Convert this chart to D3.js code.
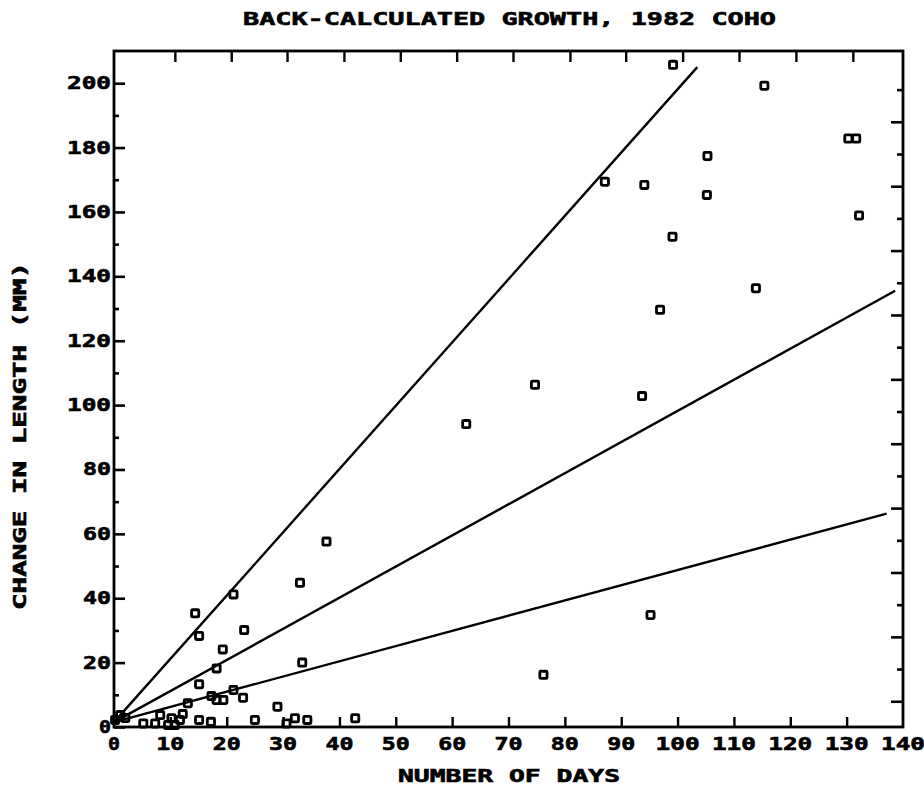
<!DOCTYPE html>
<html><head><meta charset="utf-8">
<script src="https://cdn.jsdelivr.net/npm/d3@7"></script>
<style>html,body{margin:0;padding:0;background:#fff}svg{display:block}</style>
</head><body><svg id="c" width="924" height="789"></svg>
<script>
// ---- data ----
const titleText = "BACK-CALCULATED GROWTH, 1982 COHO";
const xTitle = "NUMBER OF DAYS";
const yTitle = "CHANGE IN LENGTH (MM)";

const days = [99.2,115.4,130.3,131.7,105.3,87.1,94.1,105.2,132.2,99.1,113.9,96.9,74.7,93.7,62.5,
  37.7,33.0,21.2,14.4,15.1,23.1,19.3,33.4,18.2,15.1,13.1,21.2,22.9,17.3,18.2,19.4,29.0,95.2,76.2,
  1.1,0.2,2.0,5.2,8.2,7.3,10.2,11.7,10.8,9.6,12.2,15.1,17.2,25.0,30.6,32.1,34.3,42.8];
const growth = [205.7,199.2,182.8,182.8,177.4,169.4,168.4,165.3,158.9,152.3,136.3,129.6,106.3,102.8,94.1,
  57.6,44.8,41.2,35.3,28.3,30.1,24.1,20.0,18.2,13.3,7.4,11.5,9.1,9.6,8.4,8.4,6.3,34.8,16.2,
  3.7,2.2,2.8,1.1,3.7,1.1,2.7,2.2,0.6,0.6,4.0,2.2,1.6,2.2,1.1,2.7,2.2,2.7];

// fitted lines (end points)
const lineSteep   = [[0,1.5],[103.5,205]];
const lineMiddle  = [[0,1.5],[138.6,135.5]];
const lineShallow = [[0,1.5],[137.1,66.3]];

const xTickValues = [0,10,20,30,40,50,60,70,80,90,100,110,120,130,140];
const yTickValues = [0,20,40,60,80,100,120,140,160,180,200];
const yMinorTicks = [10,30,50,70,90,110,130,150,170,190];
const bottomTicks = [10,20,30,40,50,60,70,80,90,100,110,120,130];
const topTicks = [10.8,20.8,30.7,40.8,50.8,60.8,70.8,80.9,90.8,100.9,110.9,121.0,131.1];
const rightMajorTicks = [8,28,48,68,88,108,128,148,168,188];
const rightMinorTicks = [18,38,58,78,98,118,138,158,178,198];

// ---- layout ----
const L = 114, R = 903, T = 51, B = 727;
const x = d3.scaleLinear().domain([0,140]).range([L,R]);
const y = d3.scaleLinear().domain([0,210]).range([B,T]);

const svg = d3.select("#c");
svg.append("rect").attr("width",924).attr("height",789).attr("fill","#fff");
const FONT = "'DejaVu Sans Mono', 'Liberation Mono', monospace";

function txt(g, s, fs, len){
  return g.append("text").text(s).attr("font-family",FONT).attr("font-weight","bold")
    .attr("font-size",fs).attr("textLength",len).attr("lengthAdjust","spacingAndGlyphs")
    .attr("fill","#000").attr("stroke","#000").attr("stroke-width",0.6);
}

// title
txt(svg, titleText, 18, 533).attr("x",243).attr("y",25);

// frame
svg.append("rect").attr("x",L).attr("y",T).attr("width",R-L).attr("height",B-T)
  .attr("fill","none").attr("stroke","#000").attr("stroke-width",2.8);

// bottom axis with inward ticks
const gB = svg.append("g").attr("transform",`translate(0,${B})`)
  .call(d3.axisBottom(x).tickValues(bottomTicks).tickSize(-10).tickFormat(""));
gB.select(".domain").remove();
gB.selectAll("line").attr("stroke","#000").attr("stroke-width",2.4);

// bottom tick labels
const gBL = svg.append("g");
xTickValues.forEach(v=>{
  const s = String(v);
  txt(gBL, s, 17, s.length*16-4).attr("x",x(v)).attr("y",750).attr("text-anchor","middle");
});

// top axis
const gT = svg.append("g").attr("transform",`translate(0,${T})`)
  .call(d3.axisTop(x).tickValues(topTicks).tickSize(-11).tickFormat(""));
gT.select(".domain").remove();
gT.selectAll("line").attr("stroke","#000").attr("stroke-width",2.4);

// left axis major + minor
const gL = svg.append("g").attr("transform",`translate(${L},0)`)
  .call(d3.axisLeft(y).tickValues(yTickValues).tickSize(-11).tickFormat(""));
gL.select(".domain").remove();
gL.selectAll("line").attr("stroke","#000").attr("stroke-width",2.6);
const gLm = svg.append("g").attr("transform",`translate(${L},0)`)
  .call(d3.axisLeft(y).tickValues(yMinorTicks).tickSize(-5).tickFormat(""));
gLm.select(".domain").remove();
gLm.selectAll("line").attr("stroke","#000").attr("stroke-width",2.6);

const gLL = svg.append("g");
yTickValues.forEach(v=>{
  const s = String(v);
  txt(gLL, s, 17, s.length*16-4).attr("x",111).attr("y",y(v)+6).attr("text-anchor","end");
});

// right axis
const gR = svg.append("g").attr("transform",`translate(${R},0)`)
  .call(d3.axisRight(y).tickValues(rightMajorTicks).tickSize(-12).tickFormat(""));
gR.select(".domain").remove();
gR.selectAll("line").attr("stroke","#000").attr("stroke-width",2.6);
const gRm = svg.append("g").attr("transform",`translate(${R},0)`)
  .call(d3.axisRight(y).tickValues(rightMinorTicks).tickSize(-6).tickFormat(""));
gRm.select(".domain").remove();
gRm.selectAll("line").attr("stroke","#000").attr("stroke-width",2.6);

// axis titles
txt(svg, xTitle, 17, 222).attr("x",398).attr("y",782);
txt(svg, yTitle, 17, 348).attr("transform","translate(26,436) rotate(-90)").attr("text-anchor","middle");

// lines
const lineGen = d3.line().x(d=>x(d[0])).y(d=>y(d[1]));
[lineSteep,lineMiddle,lineShallow].forEach(ln=>{
  svg.append("path").attr("d",lineGen(ln)).attr("fill","none")
    .attr("stroke","#000").attr("stroke-width",2.4);
});

// points
const pts = days.map((d,i)=>[d,growth[i]]);
svg.append("g").selectAll("rect").data(pts).join("rect")
  .attr("x",d=>x(d[0])-3.6).attr("y",d=>y(d[1])-3.6)
  .attr("width",7.2).attr("height",7.2).attr("rx",1)
  .attr("fill","none").attr("stroke","#000").attr("stroke-width",2.8);
</script>
</body></html>
